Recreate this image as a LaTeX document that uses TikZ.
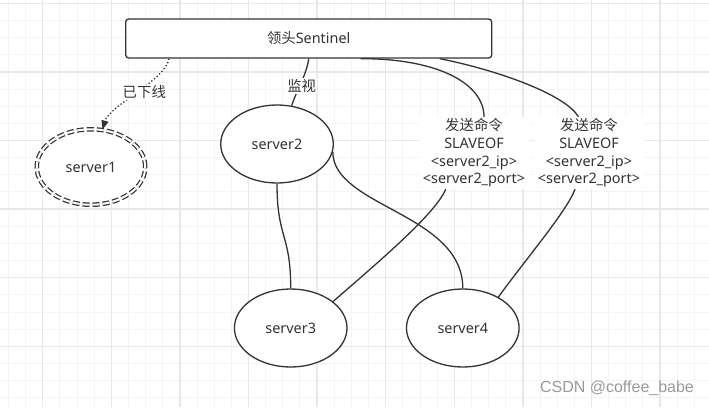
\documentclass[tikz,border=0pt]{standalone}
\usepackage{fontspec}
\setmainfont{Noto Sans}
\newfontfamily\cjk{Noto Sans CJK SC}
\newfontfamily\wmfont{Liberation Sans}
\usetikzlibrary{shapes.geometric,arrows.meta,calc}
\definecolor{ink}{HTML}{333333}
\definecolor{gridminor}{HTML}{F4F4F4}
\definecolor{gridmajor}{HTML}{E8E8E8}
\definecolor{wmgray}{HTML}{9A9A9A}
\tikzset{
  minorgrid/.style={draw=gridminor, line width=1pt},
  majorgrid/.style={draw=gridmajor, line width=1.4pt},
  txt/.style={font=\fontsize{14.4}{17.7}\selectfont, text=ink},
  leadbox/.style={txt, draw=ink, line width=1.3pt, fill=white, rounded corners=3pt,
    minimum width=366pt, minimum height=39pt, inner sep=0pt},
  srv/.style={txt, ellipse, draw=ink, line width=1.3pt, fill=white,
    minimum width=112.6pt, minimum height=78pt, inner sep=0pt},
  offsrv/.style={txt, ellipse, draw=ink, line width=1.25pt, fill=white,
    double=white, double distance=2pt, dash pattern=on 7pt off 3pt,
    minimum width=108.5pt, minimum height=75.5pt, inner sep=0pt},
  cmd/.style={txt, fill=white, align=center, minimum width=110pt, minimum height=72pt, inner sep=0pt},
  lbl/.style={txt, fill=white, inner sep=1pt},
  edge/.style={draw=ink, line width=1.3pt},
  dotline/.style={draw=ink, line width=1.3pt, dash pattern=on 1.3pt off 2.2pt},
}
\begin{document}
\begin{tikzpicture}[x=1pt,y=-1pt]
\useasboundingbox (0,0) rectangle (709,407);
\fill[white] (0,0) rectangle (709,407);
% grid
\foreach \k in {-2,...,39} \draw[minorgrid] ({42.7+\k*17.15},0) -- ({42.7+\k*17.15},407);
\foreach \k in {0,...,23} \draw[minorgrid] (0,{3.3+\k*17.15}) -- (709,{3.3+\k*17.15});
\foreach \k in {0,...,9} \draw[majorgrid] ({42.7+\k*68.6},0) -- ({42.7+\k*68.6},407);
\foreach \k in {0,...,5} \draw[majorgrid] (0,{3.3+\k*68.6}) -- (709,{3.3+\k*68.6});

% nodes
\node[leadbox] (lead) at (308.7,38.5) {{\cjk 领头}Sentinel};
\node[offsrv] (s1) at (91,167) {server1};
\node[srv] (s2) at (277,144) {server2};
\node[srv] (s3) at (290.7,328) {server3};
\node[srv] (s4) at (462.8,328) {server4};
\node[cmd] (l1) at (474,153) {{\cjk 发送命令}\\SLAVEOF\\<server2\_ip>\\<server2\_port>};
\node[cmd] (l2) at (589,153) {{\cjk 发送命令}\\SLAVEOF\\<server2\_ip>\\<server2\_port>};

% connectors
\draw[dotline, -{Triangle[length=9pt,width=7pt]}]
  ($(lead.south west)+(44,0)$) .. controls +(-4,22) and +(7,-24) .. (s1.73);
\draw[edge] (lead.south) .. controls +(-2,16) and +(5,-16) .. (s2.69);
\draw[edge] ($(lead.south)+(52,0)$) .. controls +(80,0) and +(0,-32) .. ($(l1.north)+(10,0)$);
\draw[edge] ($(lead.south)+(131,0)$) .. controls +(60,12) and +(-13,-22) .. ($(l2.north)+(-10.5,0)$);
\draw[edge] ($(l1.south)+(-28.3,0)$) .. controls +(-10,25) and +(40,-35) .. (s3.32);
\draw[edge] ($(l2.south)+(-14,0)$) .. controls +(-8,22) and +(25,-35) .. (s4.41);
\draw[edge] (s2.south) .. controls +(0,55) and +(0,-55) .. (s3.north);
\draw[edge] (s2.-8) .. controls +(0,55) and +(0,-75) .. (s4.north);

% edge labels
\node[lbl] (lmon) at (301.7,86) {\cjk 监视};
\node[lbl] (loff) at (144.3,92.3) {\cjk 已下线};

% watermark
\node[font=\fontsize{16}{16}\selectfont\wmfont, text=wmgray, inner sep=0pt] (wm) at (617,388) {CSDN @coffee\_babe};
\end{tikzpicture}
\end{document}
